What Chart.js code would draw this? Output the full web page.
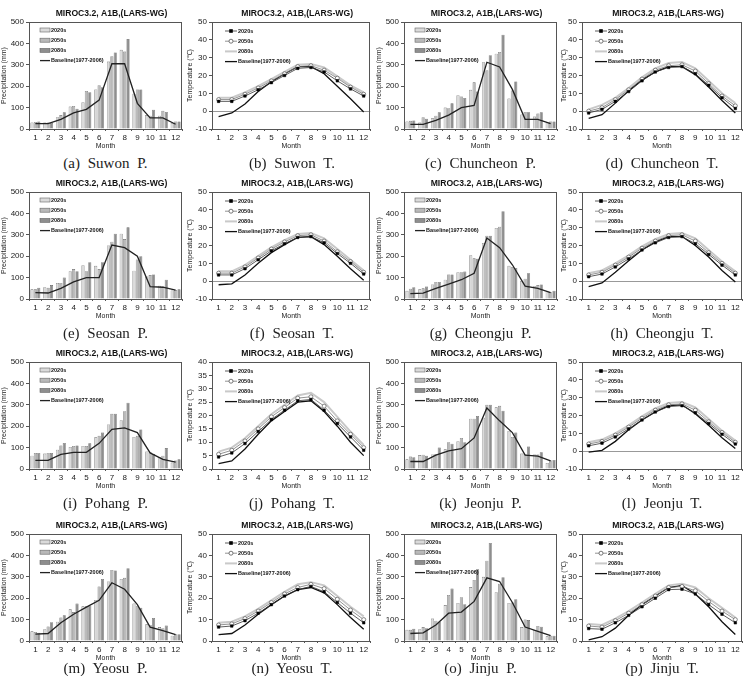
<!DOCTYPE html>
<html>
<head>
<meta charset="utf-8">
<script src="https://cdn.jsdelivr.net/npm/chart.js@4.4.0/dist/chart.umd.min.js"></script>
<style>
  body { margin: 0; background: #fff; width: 749px; height: 676px; overflow: hidden; position: relative; }
  canvas { position: absolute; }
  .cap { position: absolute; font-family: "Liberation Serif", "DejaVu Serif", serif; font-size: 15px; word-spacing: 4px;
         white-space: nowrap; transform: translate(-50%, -50%); color: #222; }
</style>
</head>
<body>
<script>
const months = ["1", "2", "3", "4", "5", "6", "7", "8", "9", "10", "11", "12"]
const seriesNames = ["2020s", "2050s", "2080s", "Baseline(1977-2006)"]

// precipitation (mm)
const suwonP2020 = [30, 30, 55, 105, 125, 185, 315, 370, 165, 65, 62, 28]
const suwonP2050 = [33, 30, 65, 108, 178, 205, 340, 362, 185, 62, 85, 35]
const suwonP2080 = [35, 28, 78, 95, 172, 195, 358, 420, 185, 90, 80, 35]
const suwonPBase = [25, 25, 45, 75, 92, 135, 305, 305, 120, 52, 52, 22]

const chuncheonP2020 = [35, 30, 50, 100, 158, 183, 312, 352, 143, 68, 58, 30]
const chuncheonP2050 = [38, 55, 62, 97, 152, 218, 275, 360, 180, 80, 73, 35]
const chuncheonP2080 = [40, 48, 78, 120, 145, 175, 345, 440, 222, 78, 78, 35]
const chuncheonPBase = [22, 22, 40, 65, 100, 110, 312, 290, 185, 45, 45, 25]

const seosanP2020 = [45, 55, 75, 130, 158, 155, 250, 305, 132, 105, 62, 40]
const seosanP2050 = [45, 52, 75, 140, 130, 140, 268, 280, 185, 112, 58, 42]
const seosanP2080 = [52, 65, 100, 130, 172, 172, 305, 335, 200, 115, 90, 45]
const seosanPBase = [30, 28, 50, 80, 100, 100, 252, 240, 200, 58, 55, 42]

const cheongjuP2020 = [38, 45, 68, 90, 125, 205, 262, 332, 155, 85, 60, 35]
const cheongjuP2050 = [48, 50, 80, 115, 125, 190, 295, 338, 148, 95, 65, 32]
const cheongjuP2080 = [55, 58, 80, 115, 128, 188, 295, 410, 145, 120, 68, 38]
const cheongjuPBase = [25, 27, 50, 70, 90, 120, 285, 240, 160, 60, 50, 30]

const pohangP2020 = [62, 72, 90, 103, 108, 148, 208, 228, 150, 82, 55, 30]
const pohangP2050 = [75, 75, 110, 108, 108, 155, 258, 270, 155, 78, 62, 40]
const pohangP2080 = [75, 75, 122, 110, 120, 170, 258, 310, 185, 70, 98, 45]
const pohangPBase = [40, 40, 68, 78, 78, 120, 185, 192, 170, 75, 45, 32]

const jeonjuP2020 = [45, 65, 68, 92, 130, 235, 240, 288, 178, 72, 68, 28]
const jeonjuP2050 = [58, 67, 70, 125, 145, 235, 300, 295, 150, 70, 68, 40]
const jeonjuP2080 = [55, 62, 100, 118, 125, 248, 300, 272, 170, 105, 78, 42]
const jeonjuPBase = [35, 35, 65, 85, 95, 145, 285, 225, 170, 65, 60, 38]

const yeosuP2020 = [45, 55, 90, 148, 162, 192, 278, 290, 175, 78, 65, 25]
const yeosuP2050 = [42, 68, 110, 135, 162, 255, 332, 295, 165, 75, 60, 32]
const yeosuP2080 = [38, 88, 120, 175, 165, 290, 330, 340, 155, 108, 72, 32]
const yeosuPBase = [32, 35, 85, 125, 158, 190, 272, 242, 170, 65, 48, 30]

const jinjuP2020 = [52, 55, 105, 168, 178, 252, 300, 228, 178, 65, 50, 22]
const jinjuP2050 = [52, 65, 95, 215, 205, 285, 375, 268, 180, 100, 70, 25]
const jinjuP2080 = [57, 60, 90, 245, 172, 335, 458, 298, 195, 98, 67, 25]
const jinjuPBase = [35, 38, 75, 130, 135, 185, 295, 278, 180, 65, 45, 25]

// temperature (deg C)
const suwonT2020 = [5.5, 5.5, 8.5, 12, 16, 20, 24, 24.5, 22, 17, 12.5, 8.5]
const suwonT2050 = [6.5, 6.5, 9.5, 13, 17, 21, 25, 25.5, 23, 18.5, 13.5, 9.5]
const suwonT2080 = [7.5, 7.5, 10.5, 14, 18, 22, 26, 26.5, 24.5, 19.5, 14.5, 10.5]
const suwonTBase = [-3, -1, 4, 11, 16.5, 21, 25, 25, 21, 14, 7, -0.5]

const chuncheonT2020 = [-1, 1, 5.5, 11, 17, 22, 24.5, 25, 21, 14.5, 7.5, 1.5]
const chuncheonT2050 = [0, 2, 6.5, 12, 18, 23, 25.5, 26, 22.5, 15.5, 8.5, 3]
const chuncheonT2080 = [1, 3.5, 7.5, 13, 19, 24, 27, 27.5, 24, 17, 10, 4.5]
const chuncheonTBase = [-4, -2, 4.5, 11.5, 17.5, 22, 25, 25, 20.5, 13.5, 6, -1]

const seosanT2020 = [3.5, 3.5, 7, 12, 17, 21, 24.5, 25, 21.5, 15.5, 10, 4]
const seosanT2050 = [4.5, 4.5, 8, 13, 18, 22, 25.5, 26, 22.5, 16.5, 11, 5]
const seosanT2080 = [5.5, 5.5, 9, 14, 19, 23, 26.5, 27, 24, 18, 12, 6]
const seosanTBase = [-2, -1.5, 3.5, 10, 16, 20.5, 24.5, 25, 20.5, 14, 7, 0.5]

const cheongjuT2020 = [2.5, 4, 8, 12.5, 17.5, 21.5, 24.5, 25, 21, 15, 9, 3.5]
const cheongjuT2050 = [3.5, 5, 9, 13.5, 18.5, 22.5, 25.5, 26, 22.5, 16, 10, 4.5]
const cheongjuT2080 = [4.5, 6, 10, 14.5, 19.5, 23.5, 26.5, 27, 24, 17.5, 11, 5.5]
const cheongjuTBase = [-3, -1, 5, 11.5, 17.5, 22, 25, 25, 20, 13.5, 6, -0.5]

const pohangT2020 = [4.5, 6, 9.5, 14, 18.5, 22, 25.5, 26, 22, 17, 12, 7]
const pohangT2050 = [5.5, 7, 10.5, 15, 19.5, 23, 26.5, 27, 23.5, 18, 13, 8]
const pohangT2080 = [6.5, 8, 11.5, 16, 20.5, 24, 27.5, 28.5, 25, 19.5, 14, 9]
const pohangTBase = [2, 3, 7.5, 13, 18, 21.5, 25, 25.5, 21.5, 16, 10, 5]

const jeonjuT2020 = [3, 4.5, 8, 12.5, 17.5, 22, 25, 25.5, 21.5, 15.5, 9.5, 4]
const jeonjuT2050 = [4, 5.5, 9, 13.5, 18.5, 23, 26, 26.5, 23, 16.5, 10.5, 5]
const jeonjuT2080 = [5, 6.5, 10, 14.5, 19.5, 24, 27, 27.5, 24.5, 18, 11.5, 6]
const jeonjuTBase = [-0.5, 0.5, 5.5, 12, 17.5, 22, 25.5, 26, 21, 14.5, 7.5, 1.5]

const yeosuT2020 = [6.5, 7, 9.5, 13, 17, 21, 24, 25.5, 23, 18, 13, 8.5]
const yeosuT2050 = [7.5, 8, 10.5, 14, 18, 22, 25, 26.5, 24.5, 19.5, 14.5, 10]
const yeosuT2080 = [8.5, 9, 11.5, 15, 19, 23, 26.5, 27.5, 26, 21, 16, 11.5]
const yeosuTBase = [3, 3.5, 7.5, 12.5, 17, 21, 24, 25, 22.5, 17, 11, 5.5]

const jinjuT2020 = [5.8, 5.5, 8.5, 12, 16, 20, 24, 24.2, 22, 17, 12.5, 8.5]
const jinjuT2050 = [7, 6.5, 9.5, 13, 17, 21, 25, 25.5, 23.5, 18.5, 14, 10]
const jinjuT2080 = [8, 7.5, 10.5, 14, 18, 22, 26, 26.8, 25, 20, 15.5, 11]
const jinjuTBase = [0.5, 2, 6, 12, 17, 21, 25, 26, 22, 16, 9, 3]

const panels = [
  ["a", "Suwon", "P", [suwonP2020, suwonP2050, suwonP2080, suwonPBase]],
  ["b", "Suwon", "T", [suwonT2020, suwonT2050, suwonT2080, suwonTBase], [-10, 50, 10]],
  ["c", "Chuncheon", "P", [chuncheonP2020, chuncheonP2050, chuncheonP2080, chuncheonPBase]],
  ["d", "Chuncheon", "T", [chuncheonT2020, chuncheonT2050, chuncheonT2080, chuncheonTBase], [-10, 50, 10]],
  ["e", "Seosan", "P", [seosanP2020, seosanP2050, seosanP2080, seosanPBase]],
  ["f", "Seosan", "T", [seosanT2020, seosanT2050, seosanT2080, seosanTBase], [-10, 50, 10]],
  ["g", "Cheongju", "P", [cheongjuP2020, cheongjuP2050, cheongjuP2080, cheongjuPBase]],
  ["h", "Cheongju", "T", [cheongjuT2020, cheongjuT2050, cheongjuT2080, cheongjuTBase], [-10, 50, 10]],
  ["i", "Pohang", "P", [pohangP2020, pohangP2050, pohangP2080, pohangPBase]],
  ["j", "Pohang", "T", [pohangT2020, pohangT2050, pohangT2080, pohangTBase], [0, 40, 5]],
  ["k", "Jeonju", "P", [jeonjuP2020, jeonjuP2050, jeonjuP2080, jeonjuPBase]],
  ["l", "Jeonju", "T", [jeonjuT2020, jeonjuT2050, jeonjuT2080, jeonjuTBase], [-10, 50, 10]],
  ["m", "Yeosu", "P", [yeosuP2020, yeosuP2050, yeosuP2080, yeosuPBase]],
  ["n", "Yeosu", "T", [yeosuT2020, yeosuT2050, yeosuT2080, yeosuTBase], [0, 50, 10]],
  ["o", "Jinju", "P", [jinjuP2020, jinjuP2050, jinjuP2080, jinjuPBase]],
  ["p", "Jinju", "T", [jinjuT2020, jinjuT2050, jinjuT2080, jinjuTBase], [0, 50, 10]],
]

// canvas placement per column: left, width, y-axis width, right padding
const cols = [
  { left: 0, width: 190, axisW: 29, padR: 8 },
  { left: 186, width: 189, axisW: 26, padR: 3 },
  { left: 375, width: 185, axisW: 29, padR: 3 },
  { left: 560, width: 189, axisW: 22, padR: 7 },
]
const rowTops = [0, 170, 340, 512]
const capY = [163, 333, 503, 668]

const FONT = '"Liberation Sans", Arial, sans-serif'

// frame, title and the little legend inside the plot
const decor = {
  id: "decor",
  afterDraw(chart) {
    const { ctx, chartArea: a } = chart
    ctx.save()
    ctx.strokeStyle = "#555"
    ctx.lineWidth = 1
    ctx.strokeRect(Math.round(a.left) + 0.5, Math.round(a.top) + 0.5, Math.round(a.right - a.left) - 1, Math.round(a.bottom - a.top))

    ctx.fillStyle = "#111"
    ctx.font = "bold 8.6px " + FONT
    ctx.textAlign = "center"
    ctx.textBaseline = "middle"
    ctx.fillText("MIROC3.2, A1B,(LARS-WG)", (a.left + a.right) / 2 + 6, a.top - 8)

    const isBar = chart.config.type === "bar"
    const sw = isBar ? 10 : 12
    const x = a.left + (isBar ? 11 : 13)
    chart.data.datasets.forEach((ds, i) => {
      const y = a.top + (isBar ? 8 : 9) + i * 10.2
      if (isBar && ds.type !== "line") {
        ctx.fillStyle = ds.backgroundColor
        ctx.fillRect(x, y - 2, sw, 4)
        ctx.strokeStyle = ds.borderColor
        ctx.lineWidth = 0.6
        ctx.strokeRect(x, y - 2, sw, 4)
      } else {
        ctx.strokeStyle = ds.borderColor
        ctx.lineWidth = ds.borderWidth
        ctx.beginPath()
        ctx.moveTo(x, y)
        ctx.lineTo(x + sw, y)
        ctx.stroke()
        if (ds.pointRadius > 0) {
          const cx = x + sw / 2
          ctx.fillStyle = ds.pointBackgroundColor
          ctx.strokeStyle = ds.pointBorderColor
          ctx.lineWidth = 0.8
          if (ds.pointStyle === "rect") {
            ctx.fillRect(cx - 1.8, y - 1.8, 3.6, 3.6)
          } else {
            ctx.beginPath()
            ctx.arc(cx, y, 2, 0, Math.PI * 2)
            ctx.fill()
            ctx.stroke()
          }
        }
      }
      ctx.fillStyle = "#111"
      ctx.font = "bold 5.5px " + FONT
      ctx.textAlign = "left"
      ctx.fillText(ds.label, x + sw + 1, y + 0.3)
    })
    ctx.restore()
  },
}

function barSets(series) {
  const fills = ["#dadada", "#b9b9b9", "#8e8e8e"]
  const sets = series.slice(0, 3).map((vals, i) => ({
    type: "bar",
    label: seriesNames[i],
    data: vals,
    backgroundColor: fills[i],
    borderColor: "#666",
    borderWidth: 0.6,
    categoryPercentage: 0.8,
    barPercentage: 0.92,
    order: 2,
  }))
  sets.push({
    type: "line",
    label: seriesNames[3],
    data: series[3],
    borderColor: "#222",
    borderWidth: 1.3,
    pointRadius: 0,
    tension: 0,
    order: 0,
  })
  return sets
}

function lineSets(series) {
  return [
    { label: seriesNames[0], data: series[0], borderColor: "#333", borderWidth: 0.8, pointStyle: "rect", pointRadius: 1.8,
      pointBackgroundColor: "#000", pointBorderColor: "#000", pointBorderWidth: 0.5 },
    { label: seriesNames[1], data: series[1], borderColor: "#777", borderWidth: 0.8, pointStyle: "circle", pointRadius: 2,
      pointBackgroundColor: "#fff", pointBorderColor: "#555", pointBorderWidth: 0.7 },
    { label: seriesNames[2], data: series[2], borderColor: "#c9c9c9", borderWidth: 2, pointRadius: 0 },
    { label: seriesNames[3], data: series[3], borderColor: "#111", borderWidth: 1.3, pointRadius: 0 },
  ].map((d) => Object.assign(d, { tension: 0, order: 0 }))
}

panels.forEach(([letter, station, kind, series, range], idx) => {
  const col = cols[idx % 4]
  const top = rowTops[Math.floor(idx / 4)]
  const canvas = document.createElement("canvas")
  canvas.width = col.width
  canvas.height = 152
  canvas.style.left = col.left + "px"
  canvas.style.top = top + "px"
  document.body.appendChild(canvas)

  const isP = kind === "P"
  const [yMin, yMax, yStep] = isP ? [0, 500, 50] : range

  new Chart(canvas, {
    type: isP ? "bar" : "line",
    data: { labels: months, datasets: isP ? barSets(series) : lineSets(series) },
    options: {
      responsive: false,
      animation: false,
      layout: { padding: { top: 22, bottom: 2, left: 0, right: col.padR } },
      plugins: { legend: { display: false }, title: { display: false }, tooltip: { enabled: false } },
      scales: {
        x: {
          offset: true,
          grid: { offset: true, drawOnChartArea: false, tickLength: 2, color: "#555" },
          border: { display: false },
          ticks: { color: "#1a1a1a", font: { family: FONT, size: 8 }, padding: 2, maxRotation: 0, autoSkip: false },
          title: { display: true, text: "Month", color: "#222", font: { family: FONT, size: 7 }, padding: 0 },
          afterFit: (s) => { s.height = 21 },
        },
        y: {
          min: yMin,
          max: yMax,
          ticks: { stepSize: yStep, color: "#1a1a1a", font: { family: FONT, size: 8 }, padding: 2 },
          grid: {
            tickLength: 3,
            color: (c) => (c.tick && c.tick.value === 0 && yMin < 0 ? "#999" : "rgba(0,0,0,0)"),
            tickColor: "#555",
          },
          border: { display: false },
          title: { display: true, text: isP ? "Precipitation (mm)" : "Temperature (℃)", color: "#222",
                   font: { family: FONT, size: 7 }, padding: 0 },
          afterFit: (s) => { s.width = col.axisW },
        },
      },
    },
    plugins: [decor],
  })

  const cap = document.createElement("div")
  cap.className = "cap"
  const plotLeft = col.left + col.axisW
  const plotRight = col.left + col.width - col.padR
  cap.style.left = (plotLeft + plotRight) / 2 + "px"
  cap.style.top = capY[Math.floor(idx / 4)] + "px"
  cap.textContent = "(" + letter + ") " + station + " " + kind + "."
  document.body.appendChild(cap)
})
</script>
</body>
</html>
